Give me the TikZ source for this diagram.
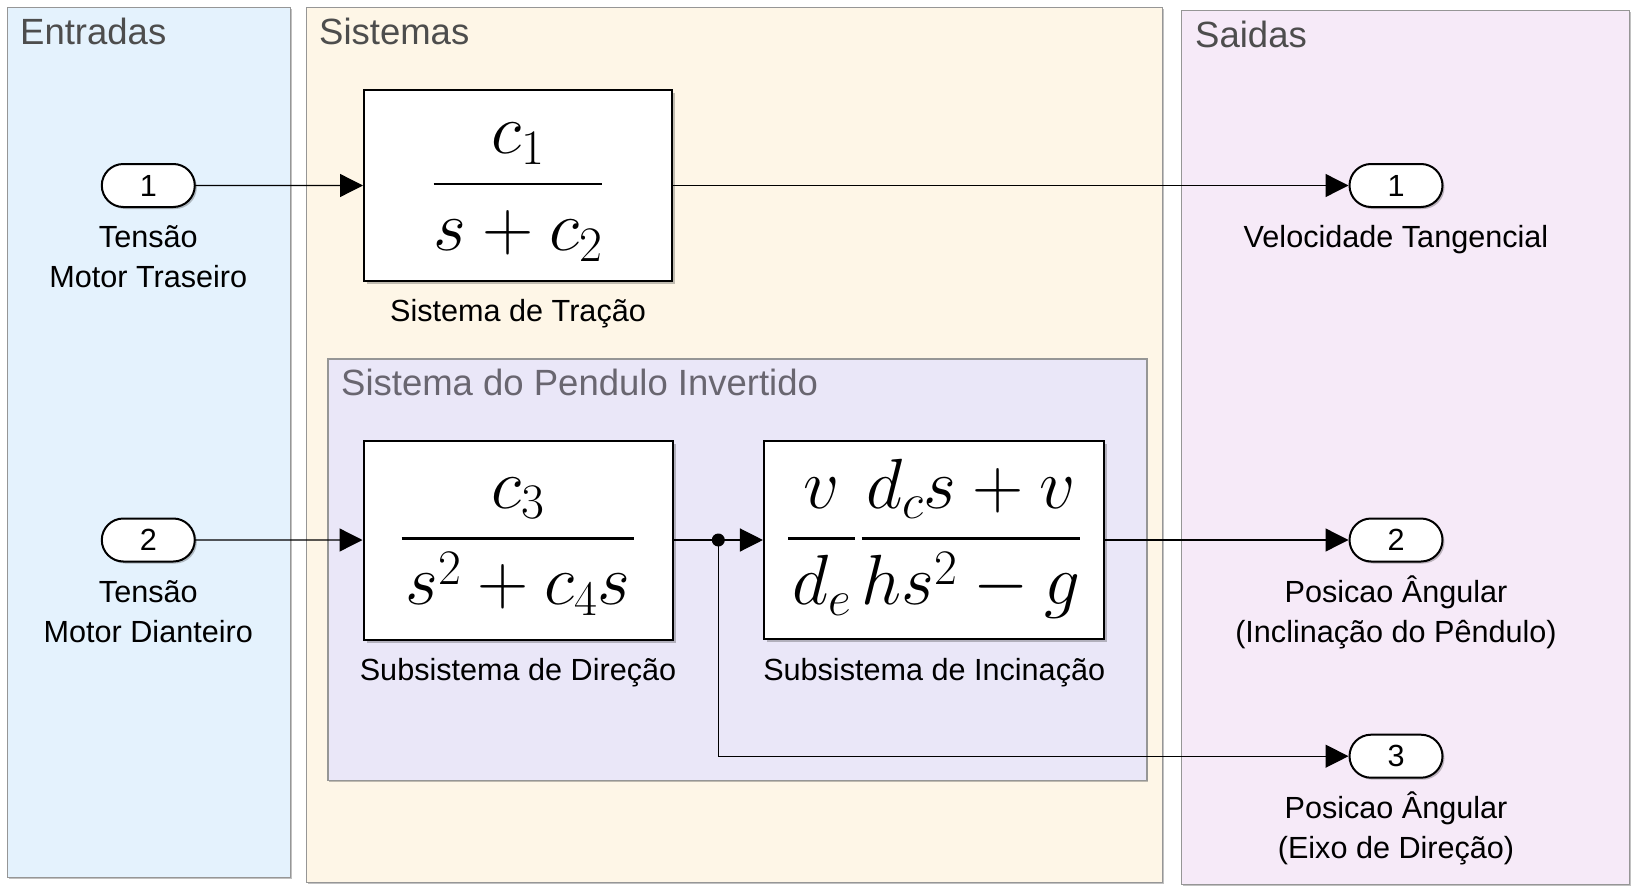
\RequirePackage{fix-cm}
\documentclass[tikz,border=0pt]{standalone}
\usepackage{amsmath}
\usepackage[no-math]{fontspec}
\setmainfont{Liberation Sans}
\usetikzlibrary{arrows.meta,shapes.misc,shadows}
\definecolor{entfill}{RGB}{228,242,253}
\definecolor{sisfill}{RGB}{254,246,231}
\definecolor{saifill}{RGB}{246,234,248}
\definecolor{penfill}{RGB}{234,231,248}
\definecolor{areaborder}{RGB}{150,150,150}
\definecolor{titlecol}{RGB}{77,77,77}
\definecolor{pentitle}{RGB}{105,102,112}
\newcommand{\pd}[1]{\mkern1mu#1\mkern1mu}
\newcommand{\tf}[2]{\genfrac{}{}{2.8pt}{0}{#1}{#2}}
\begin{document}
\begin{tikzpicture}[x=1pt,y=-1pt,
  area/.style={draw=areaborder, line width=1.2pt, anchor=north west, inner sep=0pt,
    drop shadow={shadow xshift=1.5pt, shadow yshift=-1.5pt, opacity=0.35, fill=black!70}},
  areatitle/.style={anchor=base west, inner sep=0pt, text=titlecol, font=\fontsize{36.5}{44}\selectfont},
  blk/.style={draw=black, line width=2pt, fill=white, inner sep=0pt,
    text height=90pt, text depth=57.5pt,
    drop shadow={shadow xshift=3pt, shadow yshift=-3pt, opacity=0.3, fill=black!80},
    font=\fontsize{71}{84}\selectfont},
  port/.style={rounded rectangle, draw=black, line width=2pt, fill=white, inner sep=0pt,
    minimum width=93pt, minimum height=43pt,
    drop shadow={shadow xshift=2pt, shadow yshift=-2pt, opacity=0.3, fill=black!80},
    font=\fontsize{30.6}{36}\selectfont},
  lbl/.style={anchor=base, inner sep=0pt, font=\fontsize{30.6}{39.5}\selectfont},
  conn/.style={line width=1.3pt, -{Triangle[length=23pt,width=23pt]}},
  wire/.style={line width=1.3pt},
  dotnode/.style={circle, fill=black, inner sep=0pt, minimum size=13pt}
]
\useasboundingbox (0,0) rectangle (1633,891);

% areas
\node[area, fill=entfill, minimum width=283.5pt, minimum height=870pt] (ent) at (6.7,7) {};
\node[area, fill=sisfill, minimum width=856.4pt, minimum height=874.7pt] (sis) at (305.6,7) {};
\node[area, fill=saifill, minimum width=448pt, minimum height=874pt] (sai) at (1181,10) {};
\node[area, fill=penfill, minimum width=819pt, minimum height=421.7pt] (pen) at (327.3,358.3) {};

\node[areatitle] (entT) at (20,45) {Entradas};
\node[areatitle] (sisT) at (319,45) {Sistemas};
\node[areatitle] (saiT) at (1195,48) {Saidas};
\node[areatitle, text=pentitle] (penT) at (341,395) {Sistema do Pendulo Invertido};

% blocks
\node[blk, minimum width=308pt, minimum height=191pt] (trac) at (518,185.5)
  {$\tf{c_1}{s+c_2}$};
\node[blk, minimum width=309pt, minimum height=199pt] (dir) at (518,540)
  {$\tf{c_3}{\pd{s^2+c_4s}}$};
\node[blk, minimum width=340.5pt, minimum height=198pt] (inc) at (934.2,540)
  {$\tf{\pd{v}}{\pd{d_e}}\mkern1mu\tf{d_cs+v}{hs^2-g}$};

\node[lbl] (tracL) at (518,321.3) {Sistema de Tração};
\node[lbl] (dirL) at (518,680) {Subsistema de Direção};
\node[lbl] (incL) at (934.2,680) {Subsistema de Incinação};

% ports
\node[port] (in1) at (148.3,185.5) {1};
\node[port] (in2) at (148.3,540) {2};
\node[port] (out1) at (1396,185.5) {1};
\node[port] (out2) at (1396,540) {2};
\node[port] (out3) at (1396,756.2) {3};

\node[lbl] (in1a) at (148.3,247.7) {Tensão};
\node[lbl] (in1b) at (148.3,287.3) {Motor Traseiro};
\node[lbl] (in2a) at (148.3,602.5) {Tensão};
\node[lbl] (in2b) at (148.3,642) {Motor Dianteiro};
\node[lbl] (out1a) at (1396,247.7) {Velocidade Tangencial};
\node[lbl] (out2a) at (1396,602.5) {Posicao Ângular};
\node[lbl] (out2b) at (1396,642) {(Inclinação do Pêndulo)};
\node[lbl] (out3a) at (1396,818.8) {Posicao Ângular};
\node[lbl] (out3b) at (1396,858.3) {(Eixo de Direção)};

% branch point
\node[dotnode] (br) at (718.3,540) {};

% connectors
\draw[conn] (in1) -- (trac);
\draw[conn] (trac) -- (out1);
\draw[conn] (in2) -- (dir);
\draw[wire] (dir) -- (br.center);
\draw[conn] (br.center) -- (inc);
\draw[conn] (inc) -- (out2);
\draw[conn] (br.center) |- (out3);
\end{tikzpicture}
\end{document}
